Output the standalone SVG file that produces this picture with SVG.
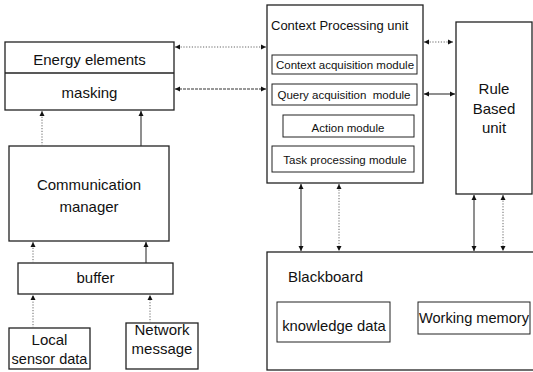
<svg xmlns="http://www.w3.org/2000/svg" width="533" height="372" viewBox="0 0 533 372">
<style>
.box{fill:#fff;stroke:#222;stroke-width:1.3}
.t{font-family:"Liberation Sans",Arial,sans-serif;fill:#111;text-anchor:middle}
.l{font-size:15px}
.m{font-size:11.5px}
.s{stroke:#333;stroke-width:1.1;fill:none}
.d{stroke:#666;stroke-width:1;stroke-dasharray:1.2 1.6;fill:none}
</style>
<defs>
<marker id="ah" markerUnits="userSpaceOnUse" markerWidth="6" markerHeight="6" refX="5" refY="3" orient="auto-start-reverse">
<path d="M0,0.5 L5,3 L0,5.5 Z" fill="#111"/>
</marker>
</defs>
<rect width="533" height="372" fill="#fff"/>
<g id="energy">
<rect class="box" x="5" y="42" width="169" height="68"/>
<line x1="5" y1="73" x2="174" y2="73" stroke="#222" stroke-width="1.3"/>
<text class="t l" x="89.5" y="65">Energy elements</text>
<text class="t l" x="89.5" y="98">masking</text>
</g>
<g id="comm">
<rect class="box" x="9" y="146" width="160" height="95"/>
<text class="t l" x="89" y="190">Communication</text>
<text class="t l" x="89" y="212">manager</text>
</g>
<g id="buffer">
<rect class="box" x="18" y="263" width="155" height="31"/>
<text class="t l" x="95.5" y="283">buffer</text>
</g>
<g id="local">
<rect class="box" x="9" y="328" width="81" height="41"/>
<text class="t l" x="49.5" y="345">Local</text>
<text class="t" style="font-size:14.5px" x="49.5" y="364">sensor data</text>
</g>
<g id="network">
<rect class="box" x="126" y="323" width="72" height="46"/>
<text class="t l" x="162" y="335">Network</text>
<text class="t l" x="162" y="354">message</text>
</g>
<g id="context">
<rect class="box" x="267" y="5" width="156" height="178"/>
<text class="t" style="font-size:13px;text-anchor:start" x="271" y="30">Context Processing unit</text>
<rect class="box" x="272" y="55" width="145" height="19" style="stroke-width:1"/>
<text class="t m" x="345" y="69">Context acquisition module</text>
<rect class="box" x="272" y="84" width="145" height="21" style="stroke-width:1"/>
<text class="t m" x="344" y="99" xml:space="preserve">Query acquisition  module</text>
<rect class="box" x="283" y="115" width="131" height="22" style="stroke-width:1"/>
<text class="t m" x="348" y="132">Action module</text>
<rect class="box" x="272" y="146" width="142" height="26" style="stroke-width:1"/>
<text class="t m" x="345" y="164">Task processing module</text>
</g>
<g id="rule">
<rect class="box" x="456" y="22" width="76" height="172"/>
<text class="t l" x="494" y="94">Rule</text>
<text class="t l" x="494" y="114">Based</text>
<text class="t l" x="494" y="133">unit</text>
</g>
<g id="blackboard">
<rect class="box" x="267" y="252" width="280" height="118"/>
<text class="t" style="font-size:15px;text-anchor:start" x="288" y="282">Blackboard</text>
<rect class="box" x="277" y="302" width="113" height="40" style="stroke-width:1"/>
<text class="t" style="font-size:14.8px" x="334" y="331">knowledge data</text>
<rect class="box" x="418" y="302" width="112" height="32" style="stroke-width:1"/>
<text class="t" style="font-size:14.6px" x="474" y="323">Working memory</text>
</g>
<g id="connectors">
<line class="d" x1="175" y1="47" x2="266" y2="47" marker-start="url(#ah)" marker-end="url(#ah)"/>
<line class="s" x1="175" y1="89" x2="266" y2="89" marker-start="url(#ah)" marker-end="url(#ah)" style="stroke-dasharray:3 1"/>
<line class="d" x1="424" y1="42" x2="453" y2="42" marker-start="url(#ah)" marker-end="url(#ah)"/>
<line class="s" x1="424" y1="94" x2="455" y2="94" marker-start="url(#ah)" marker-end="url(#ah)"/>
<line class="d" x1="42" y1="146" x2="42" y2="111" marker-end="url(#ah)"/>
<line class="s" x1="141" y1="146" x2="141" y2="111" marker-end="url(#ah)"/>
<line class="d" x1="33" y1="263" x2="33" y2="242" marker-end="url(#ah)"/>
<line class="s" x1="146" y1="263" x2="146" y2="242" marker-end="url(#ah)"/>
<line class="d" x1="33" y1="328" x2="33" y2="295" marker-end="url(#ah)"/>
<line class="d" x1="150" y1="323" x2="150" y2="295" marker-end="url(#ah)"/>
<line class="s" x1="301" y1="184" x2="301" y2="251" marker-start="url(#ah)" marker-end="url(#ah)"/>
<line class="d" x1="339" y1="184" x2="339" y2="251" marker-start="url(#ah)" marker-end="url(#ah)"/>
<line class="s" x1="474" y1="195" x2="474" y2="251" marker-start="url(#ah)" marker-end="url(#ah)"/>
<line class="d" x1="503" y1="195" x2="503" y2="251" marker-start="url(#ah)" marker-end="url(#ah)"/>
</g>
</svg>
